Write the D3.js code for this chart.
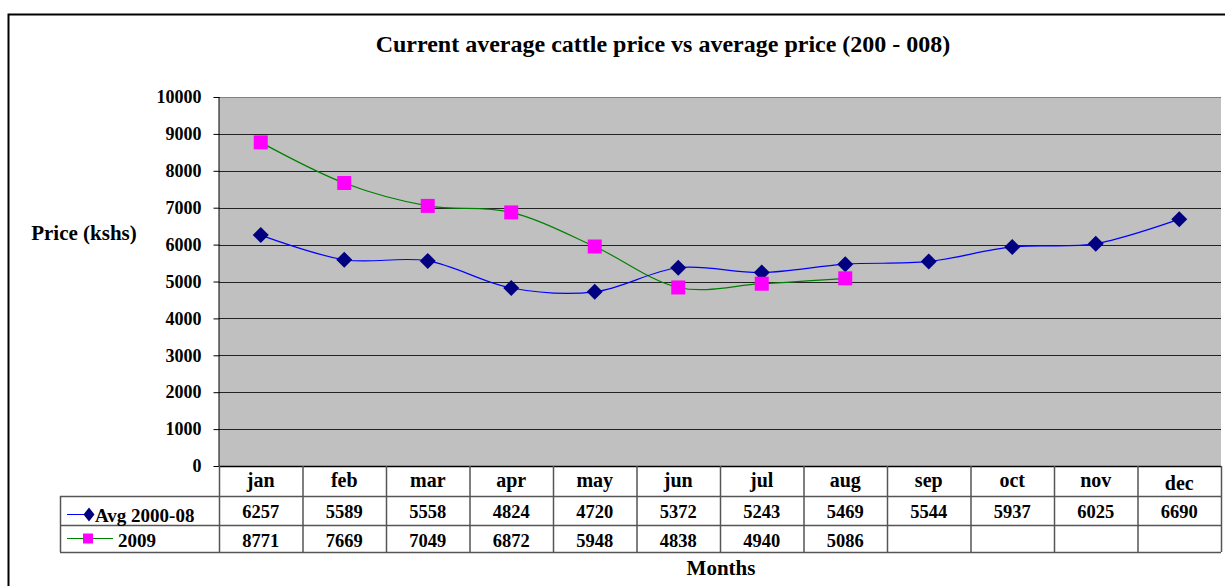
<!DOCTYPE html>
<html>
<head>
<meta charset="utf-8">
<script src="https://cdn.jsdelivr.net/npm/d3@7"></script>
<style>
  body { margin: 0; background: #fff; }
  svg { display: block; }
  svg text { font-family: "Liberation Serif", "Times New Roman", serif; font-weight: bold; fill: #000; }
</style>
</head>
<body>
<div class="canvas"></div>
<script>
// chart values
const months = ["jan", "feb", "mar", "apr", "may", "jun", "jul", "aug", "sep", "oct", "nov", "dec"];
const avgValues = [6257, 5589, 5558, 4824, 4720, 5372, 5243, 5469, 5544, 5937, 6025, 6690];
const values2009 = [8771, 7669, 7049, 6872, 5948, 4838, 4940, 5086];
const seriesNames = ["Avg 2000-08", "2009"];
const yTicks = [0, 1000, 2000, 3000, 4000, 5000, 6000, 7000, 8000, 9000, 10000];

const W = 1225, H = 586;
const plotL = 219, plotR = 1221, plotT = 97, plotB = 466;
const rowH = [30, 29, 27];
const tableL = 60;

const svg = d3.select(".canvas")
  .append("svg")
  .attr("width", W)
  .attr("height", H);

// outer frame (right and bottom fall outside the picture)
svg.append("path")
  .attr("d", `M8.5,${H + 5} V14.5 H${W + 5}`)
  .attr("fill", "none")
  .attr("stroke", "#000")
  .attr("stroke-width", 2);

const x = d3.scaleBand().domain(months).range([plotL, plotR]);
const y = d3.scaleLinear().domain([0, 10000]).range([plotB, plotT]);

// plot area
svg.append("rect")
  .attr("x", plotL)
  .attr("y", plotT)
  .attr("width", plotR - plotL)
  .attr("height", plotB - plotT)
  .attr("fill", "#c0c0c0");

const grid = svg.append("g");
grid.selectAll("line")
  .data(yTicks.slice(1))
  .enter()
  .append("line")
  .attr("x1", plotL)
  .attr("x2", plotR)
  .attr("y1", (d) => Math.round(y(d)) + 0.5)
  .attr("y2", (d) => Math.round(y(d)) + 0.5)
  .attr("stroke", (d) => (d === 10000 ? "#808080" : "#222"))
  .attr("stroke-width", 1.2);

// y axis
const yAxis = svg.append("g")
  .attr("transform", `translate(${plotL + 0.5},0)`)
  .call(d3.axisLeft(y).tickValues(yTicks).tickSize(6).tickPadding(12).tickFormat(d3.format("d")));
yAxis.attr("font-family", null).attr("font-size", null);
yAxis.select(".domain").attr("stroke", "#000").attr("d", `M-0.5,${plotT}V${plotB}`);
yAxis.selectAll(".tick line").attr("stroke", "#000");
yAxis.selectAll("text")
  .attr("fill", "#000")
  .style("font-size", "18px");

svg.append("text")
  .attr("x", 84)
  .attr("y", 240)
  .attr("text-anchor", "middle")
  .style("font-size", "21px")
  .text("Price (kshs)");

// title
svg.append("text")
  .attr("x", 663)
  .attr("y", 52)
  .attr("text-anchor", "middle")
  .style("font-size", "24px")
  .text("Current average cattle price vs average price (200 - 008)");

// lines
const line = d3.line()
  .x((d, i) => x(months[i]) + x.bandwidth() / 2)
  .y((d) => y(d))
  .curve(d3.curveCatmullRom.alpha(0));

svg.append("path")
  .datum(values2009)
  .attr("d", line)
  .attr("fill", "none")
  .attr("stroke", "#008000")
  .attr("stroke-width", 1.2);

svg.append("path")
  .datum(avgValues)
  .attr("d", line)
  .attr("fill", "none")
  .attr("stroke", "#0000ff")
  .attr("stroke-width", 1.2);

const diamond = "M0,-8 L8,0 L0,8 L-8,0 Z";

svg.append("g")
  .selectAll("path")
  .data(avgValues)
  .enter()
  .append("path")
  .attr("d", diamond)
  .attr("transform", (d, i) => `translate(${x(months[i]) + x.bandwidth() / 2},${y(d)})`)
  .attr("fill", "#000080");

svg.append("g")
  .selectAll("rect")
  .data(values2009)
  .enter()
  .append("rect")
  .attr("x", (d, i) => x(months[i]) + x.bandwidth() / 2 - 7)
  .attr("y", (d) => y(d) - 7)
  .attr("width", 14)
  .attr("height", 14)
  .attr("fill", "#ff00ff");

// data table
const table = svg.append("g");
const r0 = plotB, r1 = plotB + rowH[0], r2 = r1 + rowH[1], r3 = r2 + rowH[2];
const lineColor = "#555";

table.append("line").attr("x1", plotL).attr("x2", plotR).attr("y1", r0 + 0.5).attr("y2", r0 + 0.5).attr("stroke", "#000").attr("stroke-width", 1.5);
[r1, r2, r3].forEach((ry) => {
  table.append("line").attr("x1", tableL).attr("x2", plotR).attr("y1", ry + 0.5).attr("y2", ry + 0.5).attr("stroke", lineColor).attr("stroke-width", 1.5);
});
table.append("line").attr("x1", tableL + 0.5).attr("x2", tableL + 0.5).attr("y1", r1).attr("y2", r3).attr("stroke", lineColor).attr("stroke-width", 1.5);
table.selectAll("line.col")
  .data(months.concat(["end"]))
  .enter()
  .append("line")
  .attr("class", "col")
  .attr("x1", (d) => (d === "end" ? plotR : x(d)) + 0.5)
  .attr("x2", (d) => (d === "end" ? plotR : x(d)) + 0.5)
  .attr("y1", r0)
  .attr("y2", r3)
  .attr("stroke", lineColor)
  .attr("stroke-width", 1.5);

table.selectAll("text.month")
  .data(months)
  .enter()
  .append("text")
  .attr("class", "month")
  .attr("x", (d) => x(d) + x.bandwidth() / 2)
  .attr("y", (d) => (d === "dec" ? r0 + 24 : r0 + 21))
  .attr("text-anchor", "middle")
  .style("font-size", "20px")
  .text((d) => d);

[avgValues, values2009].forEach((vals, k) => {
  const ry = k === 0 ? r1 : r2;
  table.selectAll(`text.v${k}`)
    .data(vals)
    .enter()
    .append("text")
    .attr("class", `v${k}`)
    .attr("x", (d, i) => x(months[i]) + x.bandwidth() / 2)
    .attr("y", ry + 22)
    .attr("text-anchor", "middle")
    .style("font-size", "18.5px")
    .text((d) => d);
});

// legend keys inside the table
const k1 = r1 + rowH[1] / 2 + 4, k2 = r2 + rowH[2] / 2;
table.append("line").attr("x1", 67).attr("x2", 89).attr("y1", k1).attr("y2", k1).attr("stroke", "#0000ff");
table.append("path").attr("d", "M0,-7 L5.5,0 L0,7 L-5.5,0 Z").attr("transform", `translate(89,${k1})`).attr("fill", "#000080");
table.append("text").attr("x", 95).attr("y", r1 + 26).style("font-size", "19px").text(seriesNames[0]);

table.append("line").attr("x1", 67).attr("x2", 113).attr("y1", k2).attr("y2", k2).attr("stroke", "#008000");
table.append("rect").attr("x", 83).attr("y", k2 - 5).attr("width", 10).attr("height", 10).attr("fill", "#ff00ff");
table.append("text").attr("x", 118).attr("y", r2 + 22).style("font-size", "19px").text(seriesNames[1]);

svg.append("text")
  .attr("x", 721)
  .attr("y", 575)
  .attr("text-anchor", "middle")
  .style("font-size", "21px")
  .text("Months");
</script>
</body>
</html>
